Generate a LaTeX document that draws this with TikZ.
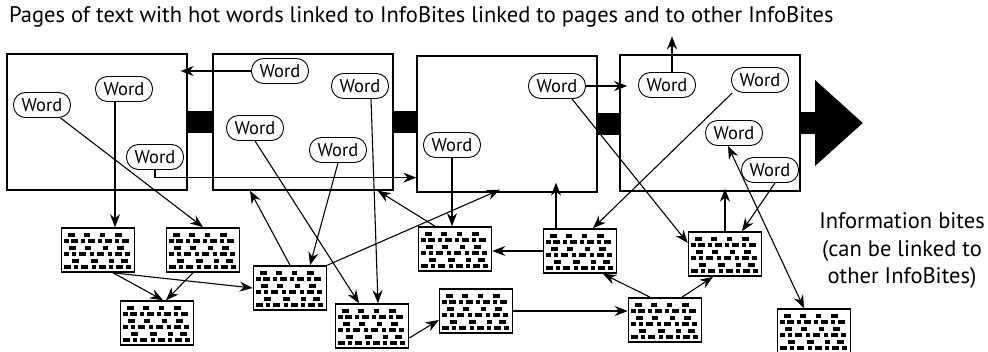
\documentclass[tikz,border=0pt]{standalone}
\usepackage{fontspec}
\setmainfont{PT Sans}
\usetikzlibrary{arrows.meta}

\begin{document}
\begin{tikzpicture}[
  x=1pt, y=-1pt,
  page/.style={draw, line width=1.3pt, minimum width=180pt,
               minimum height=136pt, inner sep=0pt},
  word/.style={draw, rounded corners=12pt, line width=0.9pt,
               minimum width=57pt, minimum height=25pt, inner sep=0pt,
               font=\fontsize{18.5}{18.5}\selectfont},
  bite/.style={draw, line width=1.6pt, minimum width=73pt,
               minimum height=44pt, inner sep=0pt,
               path picture={
                 \foreach \yy/\row in {5/{6/7,22/6,38/5,53/7},
                     11/{2/5,9/7,19/4,26/7,36/4,43/7,53/4,60/7},
                     17.5/{7/7,23/6,41/5,55/7},
                     24/{2/5,10/4,17/7,28/4,35/7,46/4,53/7,63/5},
                     30.5/{10/7,29/7,47/5,59/7},
                     37/{2/7,12/4,19/7,30/4,37/7,47/4,54/7,64/5}}
                   \foreach \xx/\ww in \row
                     \fill ([shift={(\xx pt,-\yy pt)}]path picture bounding box.north west)
                       rectangle +(\ww pt,-4pt);
               }},
  link/.style={->, line width=1.1pt},
  bar/.style={line width=22pt},
  >={Stealth[length=13pt,width=10pt]},
]
  \useasboundingbox (0,0) rectangle (988,351);

  % caption
  \node[anchor=west, inner sep=0pt, font=\fontsize{22.5}{22.5}\selectfont] (title) at (9,17)
    {Pages of text with hot words linked to InfoBites linked to pages and to other InfoBites};

  % pages
  \node[page] (p1) at (97,122) {};
  \node[page] (p2) at (303,122) {};
  \node[page] (p3) at (507,124) {};
  \node[page] (p4) at (710,123) {};
  \coordinate (tip) at (863,123);

  \draw[bar] (p1.east) -- (p2.west);
  \draw[bar] (p2.east) -- (p2.east -| p3.west);
  \draw[bar] (p3.east) -- (p3.east -| p4.west);
  \draw[bar, -{Triangle[length=48pt,width=83pt]}] (p4.east) -- (tip);

  % hot words
  \node[word] (w1a) at (42,105) {Word};
  \node[word] (w1b) at (124,89) {Word};
  \node[word] (w1c) at (155,157) {Word};
  \node[word] (w2a) at (280,71) {Word};
  \node[word] (w2b) at (360,86) {Word};
  \node[word] (w2c) at (255,128) {Word};
  \node[word] (w2d) at (338,150) {Word};
  \node[word] (w3a) at (452,145) {Word};
  \node[word] (w3b) at (557,86) {Word};
  \node[word] (w4a) at (667,85) {Word};
  \node[word] (w4b) at (760,80) {Word};
  \node[word] (w4c) at (734,133) {Word};
  \node[word] (w4d) at (770,170) {Word};

  % InfoBites
  \node[bite] (b1) at (98,250) {};
  \node[bite] (b2) at (203,250) {};
  \node[bite] (b3) at (157,323) {};
  \node[bite] (b4) at (290,288) {};
  \node[bite] (b5) at (372,326) {};
  \node[bite] (b6) at (476,311) {};
  \node[bite] (b7) at (455,249) {};
  \node[bite] (b8) at (580,251) {};
  \node[bite] (b9) at (665,320) {};
  \node[bite] (b10) at (725,254) {};
  \node[bite] (b11) at (814,331) {};

  \node[align=center, inner sep=0pt, font=\fontsize{22.5}{27.5}\selectfont] (info) at (902,251)
    {Information bites\\(can be linked to\\other InfoBites)};

  % links
  \draw[link] (w2a.west) -- ([xshift=-7pt]p1.east |- w2a.west);
  \draw[link] (w1c.south) |- ([yshift=15pt]p3.south west);
  \draw[link] ([xshift=-9pt]w1b.south) -- ([xshift=-9pt]w1b.south |- b1.north);
  \draw[link] (w1a.-35) -- (b2.north);
  \draw[link] ([xshift=15pt]b1.south) -- ([xshift=6pt]b3.north);
  \draw[link] ([xshift=-10pt]b2.south) -- ([xshift=9pt]b3.north);
  \draw[link] ([xshift=15pt]b1.south) -- (b4.west);
  \draw[link] (b4.north) -- ([xshift=-53pt]p2.south);
  \draw[link] (w2d.south) -- ([xshift=20pt]b4.north);
  \draw[link] (w2c.south) -- ([xshift=-13pt]b5.north);
  \draw[link] ([xshift=11pt]w2b.south) -- ([xshift=6pt]b5.north);
  \draw[link] (b4.north east) -- ([xshift=-7pt,yshift=3pt]p3.south);
  \draw[link] ([xshift=-20pt]b7.north) -- ([xshift=-16pt]p2.south east);
  \draw[link] (w3a.south) -- (w3a.south |- b7.north);
  \draw[link] ([yshift=-12pt]b5.east) -- ([yshift=-9pt]b6.west);
  \draw[link] (b6.east) -- (b6.east -| b9.west);
  \draw[link] (b8.west) -- (b8.west -| b7.east);
  \draw[link] ([xshift=-24pt]b8.north) -- ([xshift=-24pt,yshift=10pt]b8.north |- p3.south);
  \draw[link] ([xshift=-15pt]b9.north) -- ([xshift=23pt]b8.south);
  \draw[link] ([xshift=17pt]b9.north) -- ([xshift=-12pt]b10.south);
  \draw[link] (b10.north) -- ([yshift=3pt]b10.north |- p4.south);
  \draw[link] (w4b.-155) -- ([xshift=13pt]b8.north);
  \draw[link] ([xshift=15pt]w3b.south) -- ([yshift=11pt]b10.west);
  \draw[link] ([xshift=5pt]w4d.south) -- ([xshift=17pt]b10.north);
  \draw[link, <->] ([xshift=-6pt]w4c.south) -- ([xshift=-10pt]b11.north);
  \draw[link, shorten >=11pt] (w3b.east) -- (w3b.east -| w4a.west);
  \draw[link] ([xshift=5pt]w4a.north) -- ([xshift=5pt,yshift=18pt]w4a.north |- p4.north);
\end{tikzpicture}
\end{document}
